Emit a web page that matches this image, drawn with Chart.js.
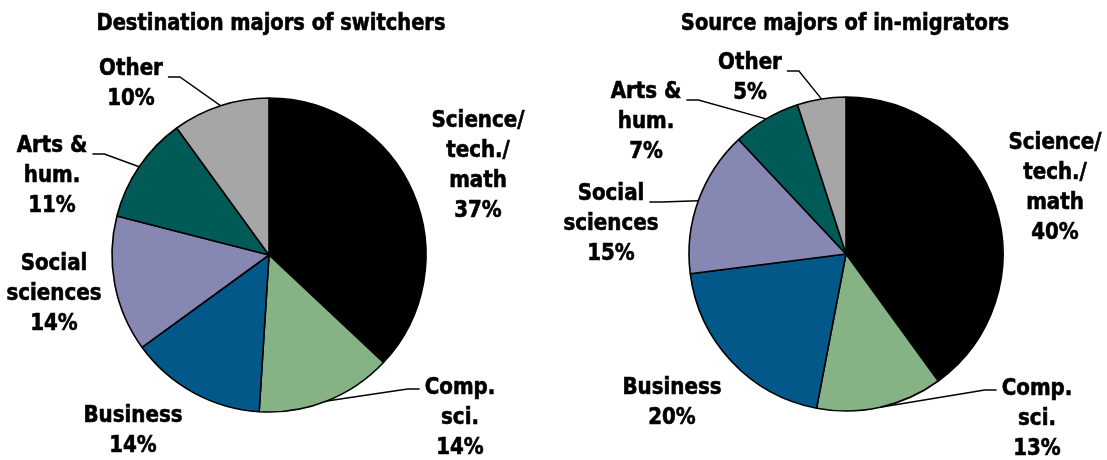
<!DOCTYPE html>
<html>
<head>
<meta charset="utf-8">
<script src="https://cdn.jsdelivr.net/npm/chart.js@4.4.1/dist/chart.umd.min.js"></script>
<style>
html, body { margin: 0; padding: 0; background: #fff; }
#wrap { position: relative; width: 1107px; height: 460px; overflow: hidden; }
canvas { position: absolute; top: 0; }
</style>
</head>
<body>
<div id="wrap">
    <canvas id="destChart" width="553" height="460" style="left:0"></canvas>
    <canvas id="sourceChart" width="554" height="460" style="left:553px"></canvas>
</div>
<script>
// categories (clockwise from 12 o'clock), one entry per text line
const majorLines = [
    ['Science/', 'tech./', 'math'],
    ['Comp.', 'sci.'],
    ['Business'],
    ['Social', 'sciences'],
    ['Arts &', 'hum.'],
    ['Other']
];
const destShares = [37, 14, 14, 14, 11, 10];
const sourceShares = [40, 13, 20, 15, 7, 5];
const sliceColors = ['#000000', '#86b386', '#03588a', '#8787b4', '#005b57', '#a6a6a6'];

const FONT = '"DejaVu Sans Condensed", "Liberation Sans Narrow", sans-serif';
const LINE_H = 30;

// label placement (first-line centre, canvas px) and which side the leader leaves from
const destLayout = [
    { x: 478, y: 121, leader: null },
    { x: 460, y: 388, leader: 'left' },
    { x: 133, y: 416, leader: null },
    { x: 54, y: 264, leader: null },
    { x: 52, y: 146, leader: 'right' },
    { x: 131, y: 69, leader: 'right' }
];
const sourceLayout = [
    { x: 502, y: 143, leader: null },
    { x: 484, y: 389, leader: 'left' },
    { x: 119, y: 388, leader: null },
    { x: 58, y: 194, leader: 'right' },
    { x: 93, y: 92, leader: 'right' },
    { x: 197, y: 63, leader: 'right' }
];

function heavyText(ctx, text, x, y, squeeze) {
    ctx.save();
    ctx.translate(x, y);
    ctx.scale(squeeze, 1);
    ctx.fillText(text, 0, 0);
    ctx.strokeText(text, 0, 0);
    ctx.restore();
}

const calloutPlugin = {
    id: 'callouts',
    afterDraw(chart, args, opts) {
        const ctx = chart.ctx;
        const meta = chart.getDatasetMeta(0);
        const values = chart.data.datasets[0].data;
        ctx.save();
        ctx.fillStyle = '#000';
        ctx.strokeStyle = '#000';
        ctx.lineWidth = 0.6;
        ctx.textAlign = 'center';
        ctx.textBaseline = 'middle';

        ctx.font = `bold 23px ${FONT}`;
        heavyText(ctx, opts.title, opts.titleX, 24, 0.94);

        meta.data.forEach((arc, i) => {
            const spot = opts.layout[i];
            const lines = majorLines[i].concat([values[i] + '%']);
            ctx.lineWidth = 0.6;
            lines.forEach((line, j) => heavyText(ctx, line, spot.x, spot.y + j * LINE_H, 0.96));
            if (!spot.leader) return;
            const p = arc.getProps(['x', 'y', 'startAngle', 'endAngle', 'outerRadius'], true);
            const mid = (p.startAngle + p.endAngle) / 2;
            const ex = p.x + Math.cos(mid) * p.outerRadius;
            const ey = p.y + Math.sin(mid) * p.outerRadius;
            const half = ctx.measureText(lines[0]).width * 0.96 / 2;
            const dir = spot.leader === 'right' ? 1 : -1;
            const sx = spot.x + dir * (half + 5);
            const sy = spot.y + (dir > 0 ? 8 : 1);
            ctx.beginPath();
            ctx.moveTo(sx, sy);
            ctx.lineTo(sx + dir * 12, sy);
            ctx.lineTo(ex, ey);
            ctx.lineWidth = 1.4;
            ctx.stroke();
        });
        ctx.restore();
    }
};

function makePie(canvasId, title, titleX, shares, layout, padding) {
    return new Chart(document.getElementById(canvasId), {
        type: 'pie',
        data: {
            labels: majorLines.map(l => l.join(' ')),
            datasets: [{
                data: shares,
                backgroundColor: sliceColors,
                borderColor: '#000',
                borderWidth: 1.6
            }]
        },
        options: {
            responsive: false,
            animation: false,
            radius: 157,
            layout: { padding: padding },
            plugins: {
                legend: { display: false },
                tooltip: { enabled: false },
                title: { display: false },
                callouts: { layout: layout, title: title, titleX: titleX }
            }
        },
        plugins: [calloutPlugin]
    });
}

makePie('destChart', 'Destination majors of switchers', 271, destShares, destLayout,
    { left: 0, right: 15, top: 50, bottom: 0 });
makePie('sourceChart', 'Source majors of in-migrators', 292, sourceShares, sourceLayout,
    { left: 32, right: 0, top: 50, bottom: 2 });
</script>
</body>
</html>
